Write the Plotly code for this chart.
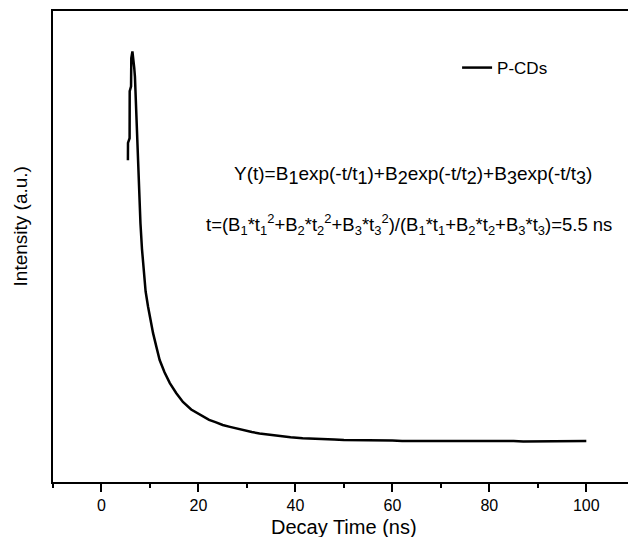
import plotly.graph_objects as go

# Decay time (ns) and intensity (a.u.)
decay_time = [5.45, 5.47, 5.80, 5.82, 6.10, 6.15, 6.38, 6.50, 6.58, 6.75, 6.90,
              7.05, 7.22, 7.40, 7.55, 7.80, 8.04, 8.35, 8.72, 9.10, 9.61, 10.10,
              10.64, 11.30, 12.00, 13.00, 14.10, 15.40, 16.80, 18.50, 19.8, 21.00,
              22.2, 23.50, 25.0, 26.50, 28.0, 29.50, 31.0, 32.60, 34.2, 36.00, 37.5,
              39.00, 41.50, 43.0, 45.00, 48.00, 50.0, 52.00, 54.0, 56.00, 58.0, 60.00,
              62.0, 65.00, 67.0, 70.00, 72.0, 75.00, 77.0, 80.00, 82.0, 85.00, 87.0,
              90.00, 92.0, 95.00, 97.0, 100.00]
intensity = [683, 720, 730, 830, 840, 900, 914, 895, 905, 880, 860,
             815, 762, 710, 656, 600, 549, 495, 443, 405, 372, 342,
             316, 288, 259, 233, 210, 189, 170, 154, 146, 138,
             132, 127, 121, 117, 113, 110, 106, 103, 101, 98, 97,
             95, 93, 92, 91, 90, 89, 89, 88, 88, 88, 88,
             87, 87, 88, 87, 87, 87, 88, 87, 87, 87, 86,
             86, 87, 87, 86, 87]

series_name = "P-CDs"
x_ticks = [0, 20, 40, 60, 80, 100]

FONT = "Liberation Sans, Arial, sans-serif"

W, H = 628, 537
L, R, T, B = 52.7, 0, 11, 55.3
pw, ph = W - L - R, H - T - B


def px(xpix):
    return (xpix - L) / pw


def py(ypix):
    return (H - B - ypix) / ph


def big_sub(s):
    return '<sub><span style="font-size:18px">' + s + '</span></sub>'


fig = go.Figure()
fig.add_trace(go.Scatter(
    x=decay_time, y=intensity, mode="lines", name=series_name,
    line=dict(color="black", width=2.5), showlegend=True,
))

formula1 = ("Y(t)=B" + big_sub("1") + "exp(-t/t" + big_sub("1") + ")+B" + big_sub("2")
            + "exp(-t/t" + big_sub("2") + ")+B" + big_sub("3") + "exp(-t/t" + big_sub("3") + ")")
formula2 = ("t=(B<sub>1</sub>*t<sub>1</sub><sup>2</sup>+B<sub>2</sub>*t<sub>2</sub><sup>2</sup>"
            "+B<sub>3</sub>*t<sub>3</sub><sup>2</sup>)/(B<sub>1</sub>*t<sub>1</sub>+B<sub>2</sub>*t<sub>2</sub>"
            "+B<sub>3</sub>*t<sub>3</sub>)=5.5 ns")

fig.update_layout(
    width=W, height=H,
    margin=dict(l=L, r=R, t=T, b=B, pad=0),
    paper_bgcolor="white", plot_bgcolor="white",
    font=dict(family=FONT, color="black"),
    showlegend=True,
    legend=dict(
        x=px(457), y=py(68), xanchor="left", yanchor="middle",
        font=dict(size=17, family=FONT, color="black"),
        bgcolor="rgba(0,0,0,0)", borderwidth=0,
    ),
    xaxis=dict(
        range=[-10, 108.6], tickvals=x_ticks, ticktext=[str(v) for v in x_ticks],
        showline=True, linecolor="black", linewidth=2, mirror=True,
        ticks="outside", ticklen=8, tickwidth=2, tickcolor="black",
        minor=dict(dtick=10, tick0=10, ticks="outside", ticklen=4, tickwidth=2, tickcolor="black"),
        showgrid=False, zeroline=False,
        tickfont=dict(size=16, family=FONT, color="black"),
    ),
    yaxis=dict(
        range=[0, 1000], showline=True, linecolor="black", linewidth=2, mirror=False,
        ticks="", showticklabels=False, showgrid=False, zeroline=False,
    ),
    annotations=[
        dict(text="Decay Time (ns)", xref="paper", yref="paper", x=px(344), y=py(527),
             showarrow=False, xanchor="center", yanchor="middle",
             font=dict(size=20, family=FONT, color="black")),
        dict(text="Intensity (a.u.)", xref="paper", yref="paper", x=px(20), y=py(226),
             textangle=-90, showarrow=False, xanchor="center", yanchor="middle",
             font=dict(size=19, family=FONT, color="black")),
        dict(text=formula1,
             xref="paper", yref="paper", x=px(413), y=py(175), showarrow=False,
             xanchor="center", yanchor="middle", font=dict(size=19, family=FONT, color="black")),
        dict(text=formula2,
             xref="paper", yref="paper", x=px(409), y=py(224), showarrow=False,
             xanchor="center", yanchor="middle", font=dict(size=18.5, family=FONT, color="black")),
    ],
)

fig.write_html("out.html", config={"displayModeBar": False},
               post_script="document.body.style.margin='0';document.body.style.overflow='hidden';")
